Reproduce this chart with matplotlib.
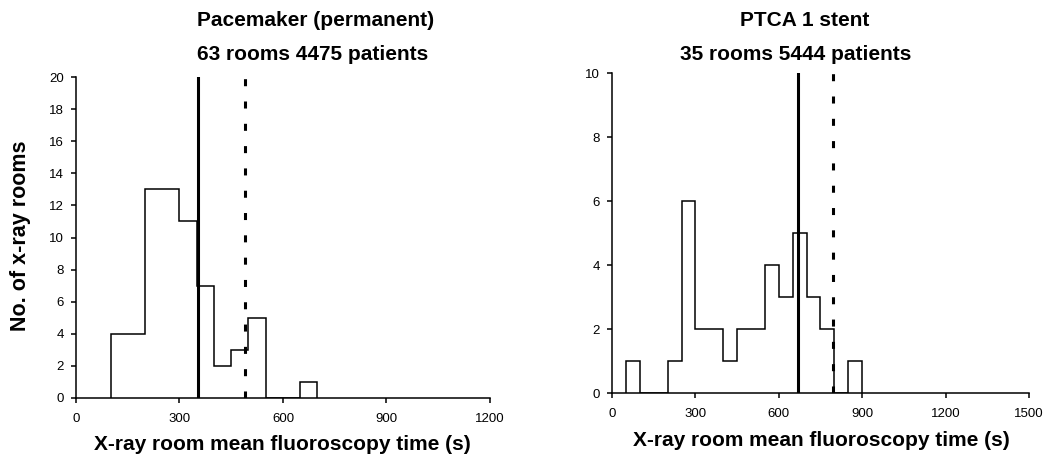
import numpy as np
import matplotlib
matplotlib.use('Agg')
from matplotlib import pyplot as plt

plt.rcParams['font.family'] = ['Liberation Sans', 'DejaVu Sans']

# pacemaker (permanent): 50 s bins starting at 100 s
pm_edges = [100, 150, 200, 250, 300, 350, 400, 450, 500, 550, 600, 650, 700]
pm_counts = [4, 4, 13, 13, 11, 7, 2, 3, 5, 0, 0, 1]
pm_solid = 355
pm_dashed = 490

# PTCA 1 stent: 50 s bins starting at 50 s
pt_edges = [50, 100, 150, 200, 250, 300, 350, 400, 450, 500, 550, 600, 650,
            700, 750, 800, 850, 900]
pt_counts = [1, 0, 0, 1, 6, 2, 2, 1, 2, 2, 4, 3, 5, 3, 2, 0, 1]
pt_solid = 668
pt_dashed = 795

fig = plt.figure(figsize=(10.53, 4.71), dpi=100)
ax1 = fig.add_axes([0.0722, 0.155, 0.393, 0.6815])
ax2 = fig.add_axes([0.5812, 0.1656, 0.396, 0.679])


def style(ax, xmax, ymax, ystep):
    ax.set_xlim(0, xmax)
    ax.set_ylim(0, ymax)
    ax.set_xticks(np.arange(0, xmax + 1, 300))
    ax.set_yticks(np.arange(0, ymax + 1, ystep))
    for s in ['top', 'right']:
        ax.spines[s].set_visible(False)
    for s in ['left', 'bottom']:
        ax.spines[s].set_linewidth(1.1)
    ax.tick_params(direction='out', length=3.6, width=1.1, labelsize=9.5)
    ax.tick_params(axis='x', pad=7)
    ax.tick_params(axis='y', pad=5)


ax1.stairs(pm_counts, pm_edges, color='black', lw=1.1)
ax1.axvline(pm_solid, color='black', lw=2.2)
ax1.axvline(pm_dashed, color='black', lw=2.2, ls=(0, (2.3, 5)))
style(ax1, 1200, 20, 2)

ax2.stairs(pt_counts, pt_edges, color='black', lw=1.1)
ax2.axvline(pt_solid, color='black', lw=2.2)
ax2.axvline(pt_dashed, color='black', lw=2.2, ls=(0, (2.3, 5)))
style(ax2, 1500, 10, 2)

bold = dict(ha='center', va='center', fontweight='bold')
fig.text(316 / 1053, 1 - 21 / 471, 'Pacemaker (permanent)', fontsize=15, **bold)
fig.text(313 / 1053, 1 - 55 / 471, '63 rooms 4475 patients', fontsize=15, **bold)
fig.text(805 / 1053, 1 - 20 / 471, 'PTCA 1 stent', fontsize=15, **bold)
fig.text(796 / 1053, 1 - 54 / 471, '35 rooms 5444 patients', fontsize=15, **bold)

fig.text(21 / 1053, 1 - 236 / 471, 'No. of x-ray rooms', rotation=90, fontsize=15.5, **bold)
fig.text(282 / 1053, 1 - 445 / 471, 'X-ray room mean fluoroscopy time (s)', fontsize=15, **bold)
fig.text(821 / 1053, 1 - 440 / 471, 'X-ray room mean fluoroscopy time (s)', fontsize=15, **bold)

fig.savefig('out.png', dpi=100)
